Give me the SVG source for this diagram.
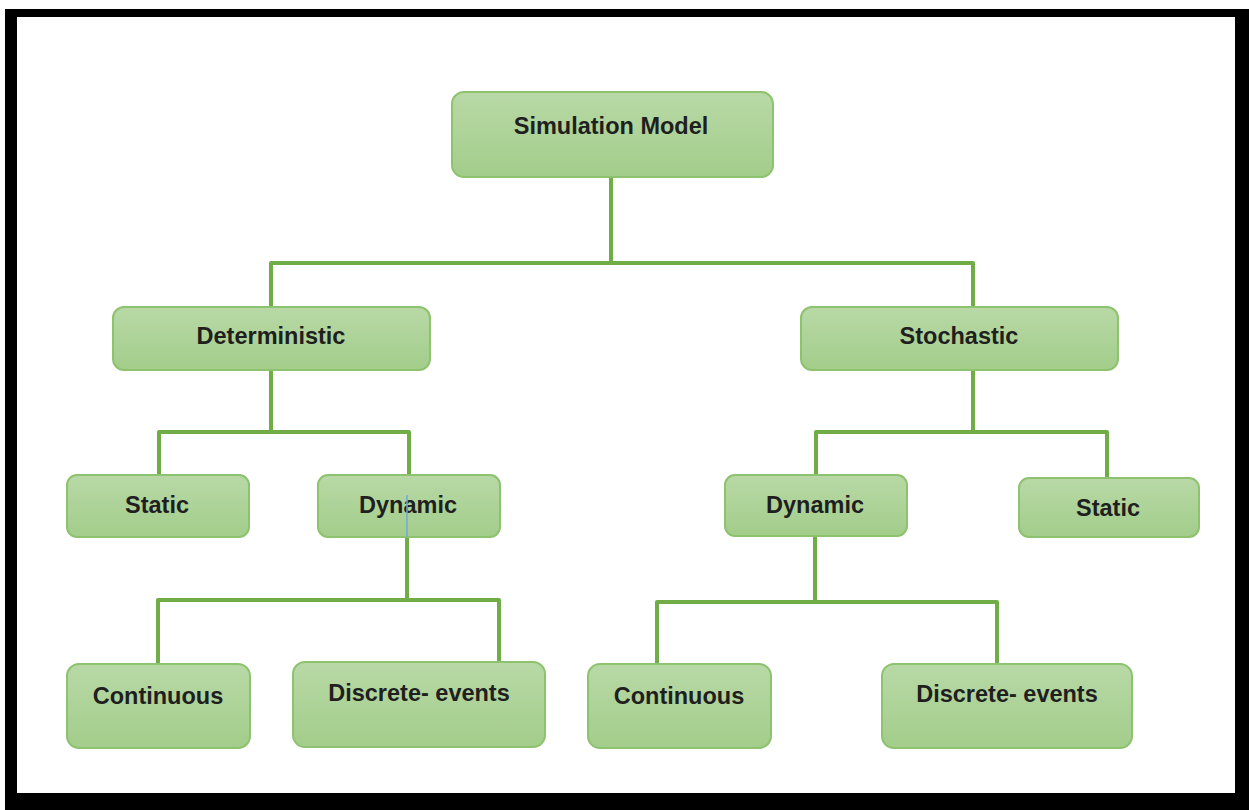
<svg xmlns="http://www.w3.org/2000/svg" width="1249" height="810" viewBox="0 0 1249 810">
  <defs>
    <linearGradient id="g" x1="0" y1="0" x2="0" y2="1">
      <stop offset="0" stop-color="#b8d9a6"/>
      <stop offset="1" stop-color="#a3cd8b"/>
    </linearGradient>
    <style>
      .box { fill: url(#g); stroke: #8dc26f; stroke-width: 2; }
      .lbl { font-family: "Liberation Sans", Arial, sans-serif; font-weight: bold; font-size: 23.5px; fill: #1f1f1f; text-anchor: middle; }
      .conn { fill: none; stroke: #70ad47; stroke-width: 4; stroke-linejoin: round; stroke-linecap: butt; }
      .blue { stroke: #6fa8dc; stroke-width: 1.5; fill: none; }
    </style>
  </defs>

  <!-- frame -->
  <rect x="5" y="9" width="1244" height="801" fill="#000"/>
  <rect x="17" y="17" width="1218" height="776" fill="#fff"/>

  <g id="connectors">
    <path class="conn" d="M611 177 V263 M271 307 V263 H973 V307"/>
    <path class="conn" d="M271 370 V432 M159 475 V432 H409 V475"/>
    <path class="conn" d="M973 370 V432 M816 475 V432 H1107 V478"/>
    <path class="conn" d="M407 537 V600 M158 664 V600 H499 V662"/>
    <path class="conn" d="M815 536 V602 M657 664 V602 H997 V664"/>
  </g>

  <g id="n-simulation-model">
    <rect class="box" x="452" y="92" width="321" height="85" rx="12"/>
    <text class="lbl" x="611" y="134" font-size="25">Simulation Model</text>
  </g>
  <g id="n-deterministic">
    <rect class="box" x="113" y="307" width="317" height="63" rx="11"/>
    <text class="lbl" x="271" y="344">Deterministic</text>
  </g>
  <g id="n-stochastic">
    <rect class="box" x="801" y="307" width="317" height="63" rx="11"/>
    <text class="lbl" x="959" y="344">Stochastic</text>
  </g>
  <g id="n-static-left">
    <rect class="box" x="67" y="475" width="182" height="62" rx="10"/>
    <text class="lbl" x="157" y="513">Static</text>
  </g>
  <g id="n-dynamic-left">
    <rect class="box" x="318" y="475" width="182" height="62" rx="10"/>
    <text class="lbl" x="408" y="513">Dynamic</text>
  </g>
  <g id="n-dynamic-right">
    <rect class="box" x="725" y="475" width="182" height="61" rx="10"/>
    <text class="lbl" x="815" y="513">Dynamic</text>
  </g>
  <g id="n-static-right">
    <rect class="box" x="1019" y="478" width="180" height="59" rx="10"/>
    <text class="lbl" x="1108" y="516">Static</text>
  </g>
  <g id="n-continuous-left">
    <rect class="box" x="67" y="664" width="183" height="84" rx="12"/>
    <text class="lbl" x="158" y="704">Continuous</text>
  </g>
  <g id="n-discrete-left">
    <rect class="box" x="293" y="662" width="252" height="85" rx="12"/>
    <text class="lbl" x="419" y="701">Discrete- events</text>
  </g>
  <g id="n-continuous-right">
    <rect class="box" x="588" y="664" width="183" height="84" rx="12"/>
    <text class="lbl" x="679" y="704">Continuous</text>
  </g>
  <g id="n-discrete-right">
    <rect class="box" x="882" y="664" width="250" height="84" rx="12"/>
    <text class="lbl" x="1007" y="702">Discrete- events</text>
  </g>

  <g id="connector-overlay">
    <line class="blue" x1="407" y1="495" x2="407" y2="537"/>
  </g>
</svg>
